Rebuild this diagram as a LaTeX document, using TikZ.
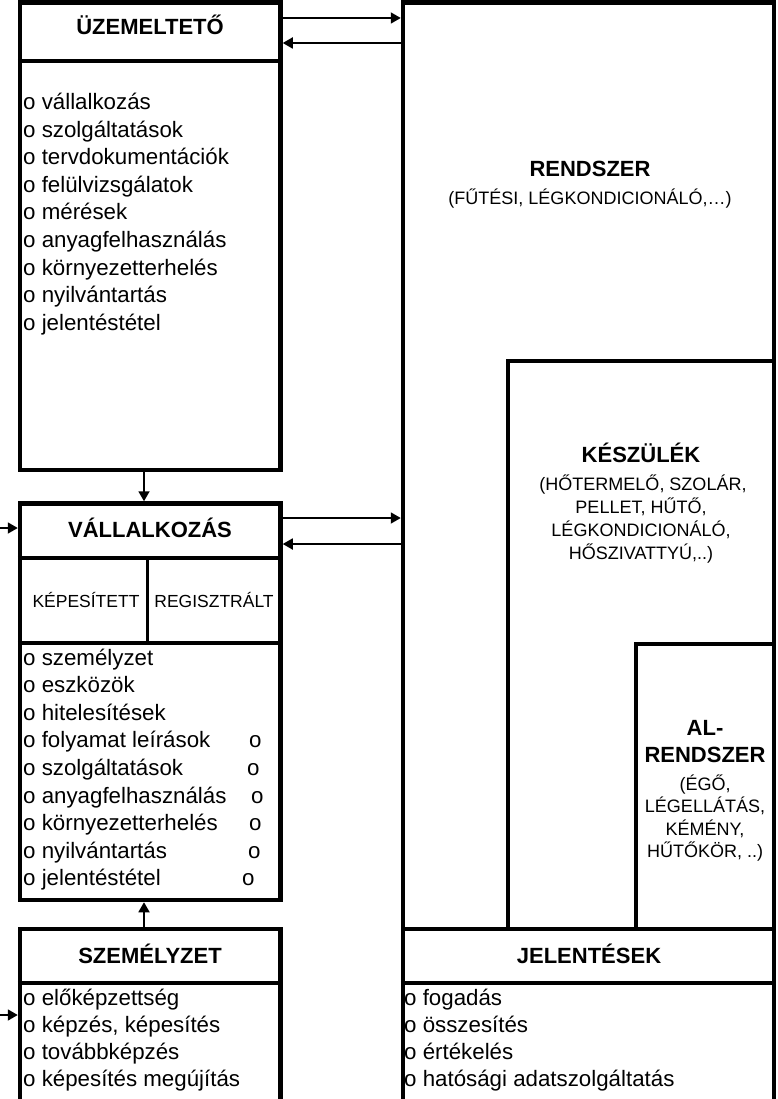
\documentclass[tikz,border=0pt]{standalone}
\usepackage{fontspec}
\setmainfont{Liberation Sans}
\usetikzlibrary{arrows.meta}
\begin{document}
\begin{tikzpicture}[x=1pt,y=-1pt,
  box/.style={draw, line width=4.5pt, inner sep=0pt},
  sepline/.style={line width=3.3pt},
  conn/.style={line width=1.8pt, -{Triangle[length=10pt,width=11pt]}},
  hdr/.style={font=\fontsize{22}{26}\selectfont\bfseries, inner sep=0pt, anchor=base},
  item/.style={font=\fontsize{22.3}{26}\selectfont, inner sep=0pt, anchor=base west},
  subt/.style={font=\fontsize{18}{23}\selectfont, inner sep=0pt, anchor=base},
  cell/.style={font=\fontsize{17.5}{21}\selectfont, inner sep=0pt, anchor=base},
]
\useasboundingbox (0,0) rectangle (778,1099);

% boxes (centre, size)
\node[box, minimum width=260.5pt, minimum height=467.5pt] (uzem) at (150.25,236.25) {};
\node[box, minimum width=260.5pt, minimum height=396.5pt] (vall) at (150.25,701.75) {};
\node[box, minimum width=260.5pt, minimum height=190pt] (szem) at (150.25,1024) {};
\node[box, minimum width=371pt, minimum height=926.5pt] (rend) at (588.5,465.75) {};
\node[box, minimum width=266pt, minimum height=568pt] (kesz) at (641,645) {};
\node[box, minimum width=138pt, minimum height=285pt] (alr) at (705,786.5) {};
\node[box, minimum width=371pt, minimum height=190pt] (jel) at (588.5,1024) {};

% separators
\draw[sepline] (uzem.west |- 0,61) -- (uzem.east |- 0,61);
\draw[sepline] (vall.west |- 0,558) -- (vall.east |- 0,558);
\draw[sepline] (vall.west |- 0,643) -- (vall.east |- 0,643);
\draw[line width=3pt] (147,558) -- (147,643);
\draw[sepline] (szem.west |- 0,983) -- (szem.east |- 0,983);
\draw[sepline] (jel.west |- 0,983) -- (jel.east |- 0,983);

% headers
\node[hdr] (uzemT) at (150,35) {ÜZEMELTETŐ};
\node[hdr] (vallT) at (150,537) {VÁLLALKOZÁS};
\node[hdr] (szemT) at (150,963) {SZEMÉLYZET};
\node[hdr] (jelT) at (589,963) {JELENTÉSEK};
\node[cell] (kep) at (86,607) {KÉPESÍTETT};
\node[cell] (reg) at (214,607) {REGISZTRÁLT};

\node[hdr] (rendT) at (590,177) {RENDSZER};
\node[subt] (rendS) at (590,205) {(FŰTÉSI, LÉGKONDICIONÁLÓ,…)};

\node[hdr] (keszT) at (641,462) {KÉSZÜLÉK};
\node[subt] (keszS1) at (643,490) {(HŐTERMELŐ, SZOLÁR,};
\node[subt] (keszS2) at (641,513) {PELLET, HŰTŐ,};
\node[subt] (keszS3) at (641,536) {LÉGKONDICIONÁLÓ,};
\node[subt] (keszS4) at (641,559) {HŐSZIVATTYÚ,..)};

\node[hdr] (alrT1) at (705,735) {AL-};
\node[hdr] (alrT2) at (705,762) {RENDSZER};
\node[subt] (alrS1) at (705,790) {(ÉGŐ,};
\node[subt] (alrS2) at (705,812) {LÉGELLÁTÁS,};
\node[subt] (alrS3) at (705,835) {KÉMÉNY,};
\node[subt] (alrS4) at (705,857) {HŰTŐKÖR, ..)};

% lists
\foreach \t [count=\i from 0] in {{o vállalkozás},{o szolgáltatások},{o tervdokumentációk},{o felülvizsgálatok},{o mérések},{o anyagfelhasználás},{o környezetterhelés},{o nyilvántartás},{o jelentéstétel}}
  \node[item] (u\i) at (23,109.5+27.6*\i) {\t};

\foreach \t [count=\i from 0] in {{o személyzet},{o eszközök},{o hitelesítések},{o folyamat leírások},{o szolgáltatások},{o anyagfelhasználás},{o környezetterhelés},{o nyilvántartás},{o jelentéstétel}}
  \node[item] (v\i) at (23,665+27.6*\i) {\t};

\foreach \x [count=\i from 3] in {249,247,251,249,248,242}
  \node[item] (vo\i) at (\x,665+27.6*\i) {o};

\foreach \t [count=\i from 0] in {{o előképzettség},{o képzés, képesítés},{o továbbképzés},{o képesítés megújítás}}
  \node[item] (s\i) at (23,1005+27.3*\i) {\t};

\foreach \t [count=\i from 0] in {{o fogadás},{o összesítés},{o értékelés},{o hatósági adatszolgáltatás}}
  \node[item] (j\i) at (404,1005+27.3*\i) {\t};

% connectors
\draw[conn] (uzem.east |- 0,18) -- (rend.west |- 0,18);
\draw[conn] (rend.west |- 0,43) -- (uzem.east |- 0,43);
\draw[conn] (vall.east |- 0,518) -- (rend.west |- 0,518);
\draw[conn] (rend.west |- 0,544) -- (vall.east |- 0,544);
\draw[conn] (144,0 |- uzem.south) -- (144,0 |- vall.north);
\draw[conn] (144,0 |- szem.north) -- (144,0 |- vall.south);
\coordinate (inV) at (0,528);
\coordinate (inS) at (0,1015);
\draw[conn] (inV) -- (vall.west |- inV);
\draw[conn] (inS) -- (szem.west |- inS);
\end{tikzpicture}
\end{document}
